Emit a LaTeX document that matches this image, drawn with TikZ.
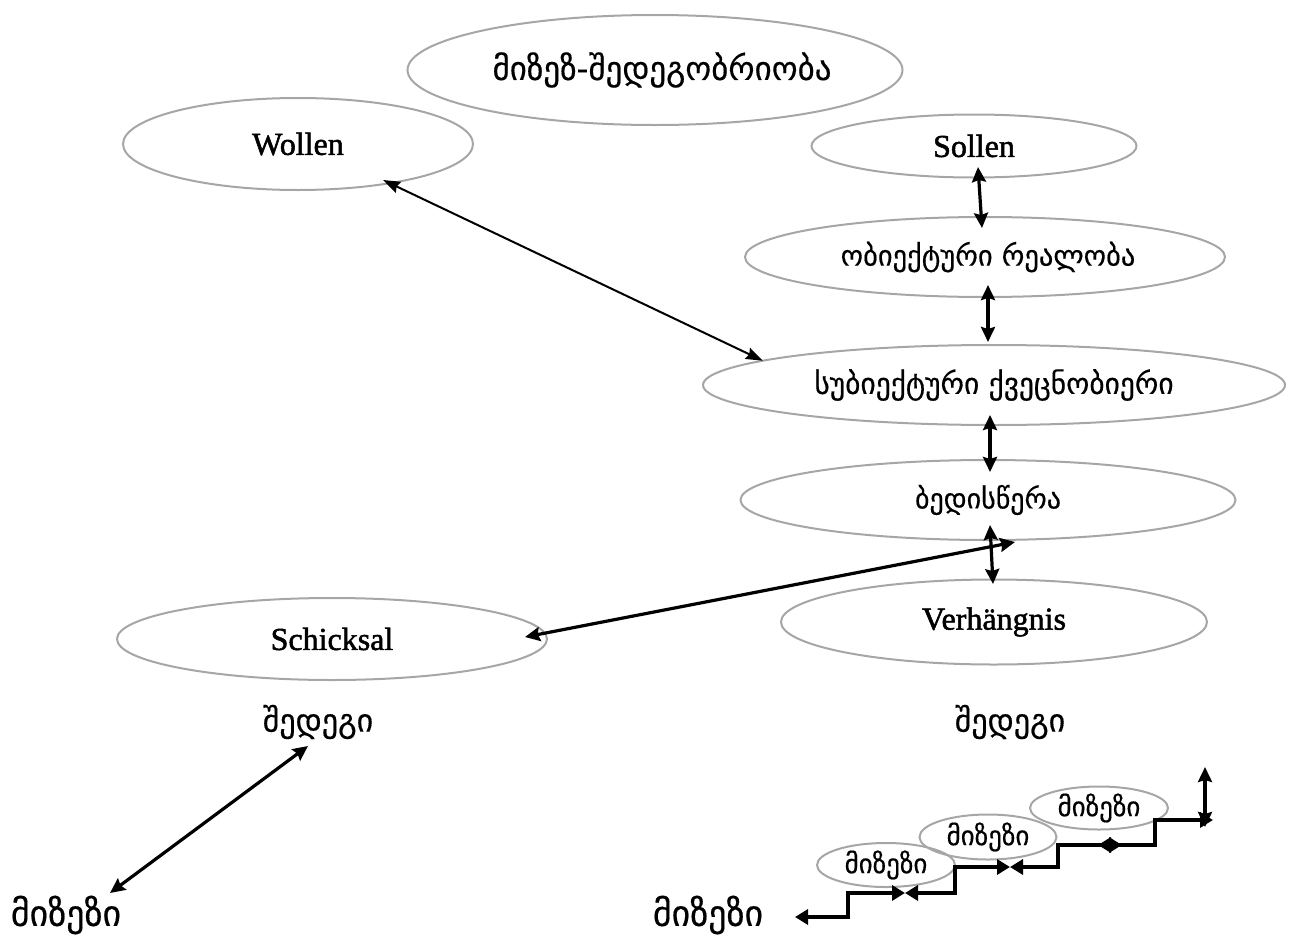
\documentclass[tikz,border=0pt]{standalone}
\usepackage{fontspec}
\setmainfont{Liberation Serif}
\newfontfamily\lat{Liberation Serif}[FakeBold=1.6]
\newfontfamily\geo{DejaVu Sans}[FakeBold=0.4]
\usetikzlibrary{shapes.geometric,arrows.meta}
\definecolor{ovalgray}{RGB}{166,166,166}
\begin{document}
\begin{tikzpicture}[x=1pt,y=-1pt,
  oval/.style={ellipse,draw=ovalgray,line width=2pt,inner sep=0pt,outer sep=0pt},
  conn/.style={line width=3.2pt,{Stealth[length=15pt,width=14pt,inset=2pt]}-{Stealth[length=15pt,width=14pt,inset=2pt]}},
  thinconn/.style={line width=2pt,{Stealth[length=17pt,width=12pt,inset=2pt]}-{Stealth[length=17pt,width=12pt,inset=2pt]}},
  stair/.style={line width=4pt,{Triangle[length=13pt,width=15pt]}-{Triangle[length=13pt,width=15pt]}},
]
\newcommand{\geosz}[1]{\geo\fontsize{#1}{#1}\selectfont}
\newcommand{\latbig}{\lat\fontsize{32}{32}\selectfont}
\useasboundingbox (0,0) rectangle (1298,937);

% main ellipses
\node[oval,minimum width=495pt,minimum height=110pt] (top) at (655,70)
  {\makebox[0pt]{\hspace{14pt}\geosz{33}მიზეზ-შედეგობრიობა}};
\node[oval,minimum width=350pt,minimum height=92pt] (wollen) at (298,144)
  {\makebox[0pt]{\latbig Wollen}};
\node[oval,minimum width=325pt,minimum height=63pt] (sollen) at (974,146)
  {\makebox[0pt]{\latbig Sollen}};
\node[oval,minimum width=480pt,minimum height=80pt] (obj) at (985,257)
  {\makebox[0pt]{\hspace{6pt}\geosz{28.5}ობიექტური რეალობა}};
\node[oval,minimum width=582pt,minimum height=80pt] (subj) at (994,385)
  {\makebox[0pt]{\geosz{29.5}სუბიექტური ქვეცნობიერი}};
\node[oval,minimum width=495pt,minimum height=80pt] (bedis) at (988,500)
  {\makebox[0pt]{\geosz{28}ბედისწერა}};
\node[oval,minimum width=426pt,minimum height=85pt] (verh) at (994,622)
  {\makebox[0pt]{\latbig Verhängnis}};
\node[oval,minimum width=430pt,minimum height=82pt] (schick) at (332,639)
  {\makebox[0pt]{\latbig Schicksal}};

% free labels
\node[font=\geosz{32}] (shedL) at (318,722) {შედეგი};
\node[font=\geosz{36}] (mizL) at (66,915) {მიზეზი};
\node[font=\geosz{32}] (shedR) at (1010,722) {შედეგი};
\node[font=\geosz{36}] (mizR) at (708,915) {მიზეზი};

% small staircase ellipses
\node[oval,minimum width=138pt,minimum height=44pt] (m1) at (886,865)
  {\makebox[0pt]{\geosz{27}მიზეზი}};
\node[oval,minimum width=137pt,minimum height=45pt] (m2) at (988,837)
  {\makebox[0pt]{\geosz{27}მიზეზი}};
\node[oval,minimum width=138pt,minimum height=43pt] (m3) at (1099,808)
  {\makebox[0pt]{\geosz{27}მიზეზი}};

% connectors
\draw[thinconn] ([shift={(85,36)}]wollen.center) -- (subj.174.5);
\draw[conn] ([shift={(4,21)}]sollen.center) -- ([shift={(-3,-29)}]obj.center);
\draw[conn] ([shift={(3,28)}]obj.center) -- ([shift={(-6,-43)}]subj.center);
\draw[conn] ([shift={(-4,30)}]subj.center) -- ([shift={(2,-28)}]bedis.center);
\draw[conn] ([shift={(2,25)}]bedis.center) -- ([shift={(-1,-38)}]verh.center);
\coordinate (fate) at (1015,542);
\draw[conn] ([shift={(193,-2)}]schick.center) -- (fate);
\draw[conn] ([shift={(44,-22)}]mizL.center) -- ([shift={(-10,24)}]shedL.center);

% staircase
\coordinate (a0) at (905,893);
\coordinate (a1) at (848,893);
\coordinate (a2) at (848,917);
\coordinate (a3) at (795,917);
\coordinate (b1) at (955,893);
\coordinate (b2) at (955,867);
\coordinate (b3) at (1010,867);
\coordinate (c1) at (1058,867);
\coordinate (c2) at (1058,845);
\coordinate (c3) at (1122,845);
\coordinate (d0) at (1098,845);
\coordinate (d1) at (1155,845);
\coordinate (d2) at (1155,820);
\coordinate (d3) at (1213,820);
\coordinate (v0) at (1205,767);
\coordinate (v1) at (1205,827);
\draw[stair] (a0) -- (a1) -- (a2) -- (a3);
\draw[stair] (a0) -- (b1) -- (b2) -- (b3);
\draw[stair] (b3) -- (c1) -- (c2) -- (c3);
\draw[stair] (d0) -- (d1) -- (d2) -- (d3);
\draw[conn] (v0) -- (v1);
\end{tikzpicture}
\end{document}
